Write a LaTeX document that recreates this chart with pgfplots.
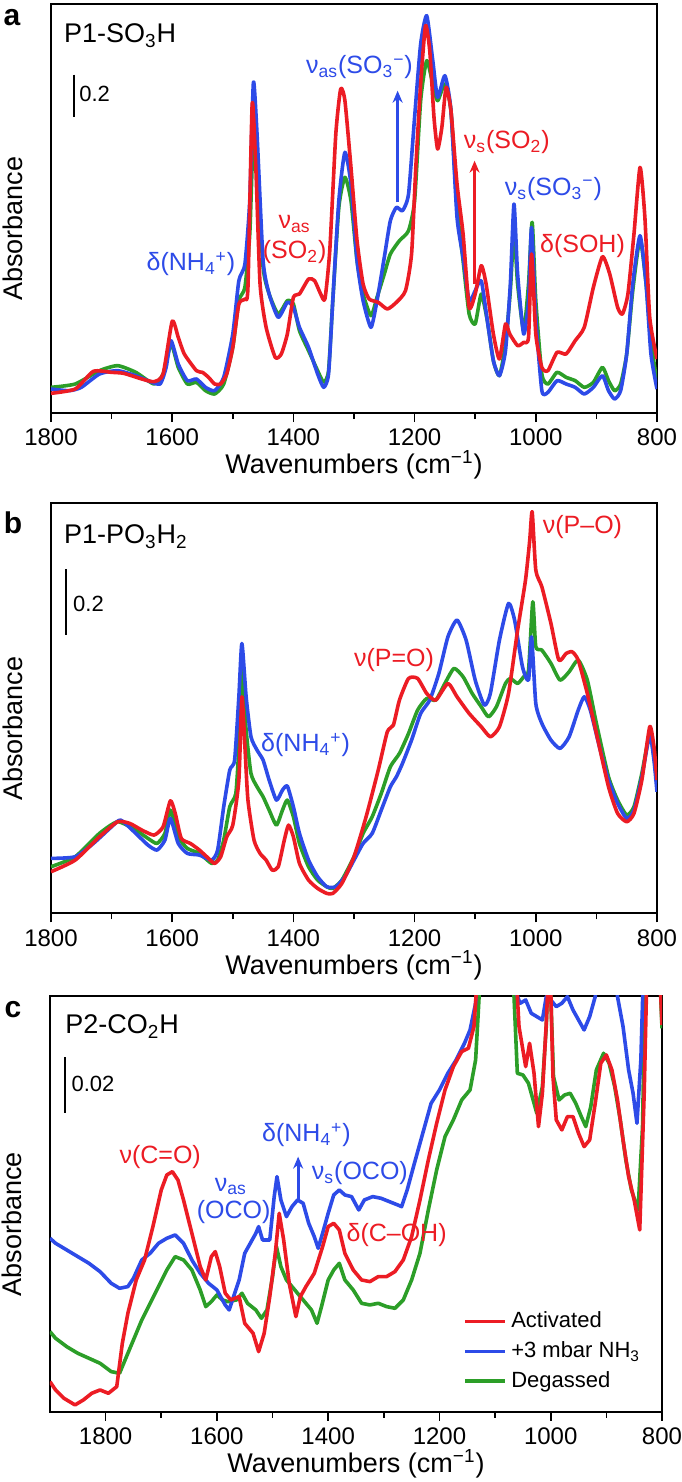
\documentclass[border=0pt]{standalone}
\usepackage{fontspec}
\setmainfont{Liberation Sans}
\usepackage{pgfplots}
\pgfplotsset{compat=1.18}
\usetikzlibrary{arrows.meta}
\definecolor{cred}{RGB}{236,28,36}
\definecolor{cblue}{RGB}{45,75,232}
\definecolor{cgreen}{RGB}{44,158,40}
\newcommand{\fa}{\fontsize{11}{13}\selectfont}
\newcommand{\ft}{\fontsize{12}{14}\selectfont}
\newcommand{\fn}{\fontsize{12.5}{14.5}\selectfont}
\newcommand{\fl}{\fontsize{13.5}{16}\selectfont}
\tikzset{ann/.style={font=\fn, inner sep=0pt}}
\pgfplotsset{
  spec/.style={
    scale only axis, x dir=reverse, clip=true,
    xtick={800,1000,...,1800}, minor xtick={900,1100,...,1700},
    xtick pos=bottom, ytick=\empty,
    tick align=outside, major tick length=4.5pt, minor tick length=3pt,
    axis line style={line width=1pt},
    every tick/.style={black, line width=0.8pt},
    /pgf/number format/assume math mode=true,
    /pgf/number format/1000 sep={},
    xlabel={Wavenumbers (cm\textsuperscript{−1})},
    ylabel={Absorbance},
    every axis x label/.style={at={(axis description cs:0.5,0)}, anchor=center, yshift=-26pt, font=\fl},
    every axis y label/.style={at={(axis description cs:-0.063,0.45)}, anchor=center, rotate=90, font=\fl},
    xticklabel style={font=\ft},
    every axis plot/.append style={line width=1.8pt, line join=round, mark=none},
  },
}
\begin{document}
\begin{tikzpicture}
\path[use as bounding box] (0pt,0pt) rectangle (340.5pt,-741pt);
\node[font=\fontsize{15}{17}\bfseries, anchor=center] at (6pt,-9pt) {a};
\node[font=\fontsize{15}{17}\bfseries, anchor=center] at (6.5pt,-261.5pt) {b};
\node[font=\fontsize{15}{17}\bfseries, anchor=center] at (6.5pt,-505pt) {c};

% ---------------- panel a
\begin{axis}[spec, anchor=south west, at={(25.5pt,-206.5pt)},
  width=303pt, height=204.5pt, xmin=800, xmax=1800, ymin=0, ymax=1227,
  every axis plot/.append style={smooth, tension=0.35}]
\addplot[cgreen] coordinates {(1800,77)(1760,87)(1720,127)(1690,142)(1660,122)(1630,87)(1615,117)(1602,207)(1590,137)(1575,87)(1560,92)(1545,67)(1530,57)(1515,87)(1500,197)(1490,337)(1480,377)(1472,537)(1466,837)(1460,737)(1450,437)(1440,357)(1425,297)(1410,337)(1400,327)(1390,247)(1375,187)(1360,127)(1350,92)(1342,127)(1335,337)(1325,617)(1315,707)(1305,637)(1295,457)(1285,357)(1272,292)(1262,347)(1250,417)(1240,477)(1225,517)(1210,547)(1200,637)(1190,937)(1180,1057)(1170,987)(1162,937)(1150,987)(1140,907)(1130,617)(1120,457)(1110,297)(1100,267)(1090,357)(1080,277)(1070,157)(1060,112)(1050,207)(1042,367)(1036,547)(1030,387)(1020,247)(1012,387)(1006,572)(1000,337)(990,117)(980,87)(965,122)(950,107)(935,97)(920,77)(905,92)(890,137)(880,97)(870,67)(860,87)(850,177)(840,367)(828,522)(818,387)(810,217)(800,92)};
\addplot[cblue] coordinates {(1800,72)(1770,67)(1750,77)(1720,117)(1690,127)(1660,112)(1640,97)(1620,87)(1610,137)(1602,217)(1590,147)(1575,97)(1560,102)(1545,77)(1530,67)(1515,107)(1500,237)(1490,397)(1480,447)(1472,637)(1466,992)(1460,837)(1450,457)(1440,357)(1425,287)(1410,332)(1400,317)(1390,257)(1375,197)(1360,117)(1350,77)(1342,117)(1335,337)(1325,637)(1315,782)(1305,687)(1295,457)(1285,337)(1272,257)(1262,337)(1250,467)(1240,577)(1230,617)(1220,607)(1210,657)(1200,887)(1190,1107)(1180,1192)(1170,1057)(1162,947)(1150,1012)(1140,907)(1130,587)(1120,467)(1110,337)(1100,367)(1090,397)(1080,277)(1070,157)(1060,112)(1050,187)(1042,387)(1036,627)(1030,417)(1020,237)(1012,337)(1007,557)(1000,287)(990,67)(980,62)(965,97)(950,87)(935,77)(920,57)(905,77)(890,112)(880,67)(870,42)(860,67)(850,177)(840,387)(828,532)(818,387)(810,177)(800,72)};
\addplot[cred] coordinates {(1800,59)(1760,72)(1730,125)(1700,122)(1680,119)(1650,102)(1630,94)(1615,117)(1600,275)(1590,227)(1580,177)(1560,127)(1550,122)(1540,107)(1530,87)(1520,87)(1510,117)(1500,197)(1490,327)(1480,342)(1475,377)(1468,927)(1462,737)(1455,387)(1445,257)(1430,167)(1420,177)(1410,237)(1400,347)(1390,357)(1375,402)(1365,397)(1355,357)(1348,342)(1340,487)(1330,837)(1322,972)(1315,937)(1305,737)(1295,517)(1285,387)(1275,342)(1260,332)(1245,312)(1230,332)(1215,367)(1205,477)(1198,737)(1190,987)(1182,1162)(1175,1087)(1168,887)(1162,792)(1155,857)(1148,977)(1140,907)(1130,687)(1120,537)(1110,317)(1100,357)(1090,442)(1082,387)(1070,237)(1060,162)(1050,267)(1043,237)(1030,202)(1020,212)(1012,227)(1007,477)(1000,237)(990,137)(980,127)(965,182)(950,177)(935,217)(920,257)(905,377)(890,469)(878,417)(865,317)(857,297)(848,357)(838,537)(828,737)(820,587)(812,287)(800,162)};
\node[ann, anchor=west, font=\fl] at (axis cs:1779,1132) {P1-SO\textsubscript{3}H};
\draw[line width=1pt] (axis cs:1762,1015) -- (axis cs:1762,889);
\node[ann, anchor=west, font=\fa] at (axis cs:1754,957) {0.2};
\node[ann, text=cblue] at (axis cs:1569,447) {δ(NH\textsubscript{4}\textsuperscript{+})};
\node[ann, text=cred] at (axis cs:1398,567) {ν\textsubscript{as}};
\node[ann, text=cred] at (axis cs:1398,482) {(SO\textsubscript{2})};
\node[ann, text=cblue] at (axis cs:1291,1037) {ν\textsubscript{as}(SO\textsubscript{3}\textsuperscript{−})};
\draw[cblue, line width=1.5pt, -{Stealth[length=6pt,width=5pt]}] (axis cs:1228,632) -- (axis cs:1228,967);
\node[ann, text=cred] at (axis cs:1048,812) {ν\textsubscript{s}(SO\textsubscript{2})};
\draw[cred, line width=1.5pt, -{Stealth[length=6pt,width=5pt]}] (axis cs:1101,387) -- (axis cs:1101,757);
\node[ann, text=cblue] at (axis cs:971,672) {ν\textsubscript{s}(SO\textsubscript{3}\textsuperscript{−})};
\node[ann, text=cred] at (axis cs:923,502) {δ(SOH)};
\end{axis}

% ---------------- panel b
\begin{axis}[spec, anchor=south west, at={(25.5pt,-456.7pt)},
  width=303pt, height=205.3pt, xmin=800, xmax=1800, ymin=0, ymax=1232,
  every axis plot/.append style={smooth, tension=0.35}]
\addplot[cgreen] coordinates {(1800,140)(1760,170)(1720,240)(1690,275)(1660,250)(1640,225)(1625,210)(1612,240)(1603,310)(1590,230)(1575,195)(1555,180)(1535,150)(1525,160)(1515,220)(1505,320)(1495,360)(1490,500)(1485,735)(1478,550)(1470,420)(1460,380)(1450,350)(1440,310)(1428,265)(1418,310)(1410,340)(1400,290)(1390,210)(1375,140)(1360,100)(1345,80)(1335,75)(1320,100)(1300,170)(1285,240)(1270,290)(1255,360)(1240,440)(1225,480)(1210,540)(1195,610)(1180,645)(1165,640)(1150,690)(1135,735)(1120,710)(1105,660)(1090,620)(1078,590)(1065,620)(1050,690)(1042,705)(1030,690)(1020,710)(1012,730)(1005,935)(1000,800)(990,790)(975,750)(960,700)(945,725)(930,760)(915,700)(900,570)(880,410)(865,340)(850,295)(838,320)(825,420)(812,540)(805,470)(800,390)};
\addplot[cblue] coordinates {(1800,165)(1760,170)(1730,210)(1700,260)(1685,280)(1660,240)(1640,205)(1625,190)(1612,220)(1603,285)(1590,210)(1575,180)(1555,175)(1535,160)(1525,190)(1515,320)(1505,430)(1497,460)(1490,650)(1485,810)(1478,650)(1470,530)(1460,490)(1450,460)(1440,400)(1428,340)(1418,370)(1410,382)(1400,320)(1390,240)(1375,160)(1360,110)(1345,80)(1330,80)(1315,110)(1300,160)(1285,210)(1270,240)(1255,310)(1240,380)(1230,410)(1220,450)(1205,520)(1190,600)(1175,640)(1160,720)(1145,830)(1130,880)(1115,820)(1100,700)(1085,625)(1075,660)(1060,820)(1045,930)(1035,880)(1022,740)(1012,700)(1007,830)(1000,630)(990,570)(975,520)(960,495)(945,530)(930,610)(920,650)(910,610)(895,500)(880,400)(865,330)(850,285)(838,310)(825,410)(812,535)(805,460)(800,365)};
\addplot[cred] coordinates {(1800,125)(1760,160)(1720,230)(1690,275)(1670,270)(1650,250)(1630,235)(1615,260)(1603,338)(1595,300)(1585,225)(1570,210)(1555,190)(1540,165)(1530,150)(1520,170)(1510,230)(1500,265)(1490,400)(1485,650)(1480,500)(1475,340)(1465,220)(1455,180)(1445,160)(1435,130)(1425,140)(1415,220)(1408,265)(1400,230)(1390,150)(1375,100)(1360,75)(1345,60)(1335,60)(1320,90)(1300,170)(1280,290)(1260,430)(1245,545)(1235,565)(1225,640)(1210,705)(1195,705)(1180,660)(1165,640)(1145,690)(1130,650)(1110,600)(1090,560)(1075,530)(1060,560)(1045,660)(1030,850)(1017,1000)(1010,1120)(1006,1205)(1000,1030)(990,980)(975,870)(962,760)(950,780)(940,785)(930,760)(915,660)(900,540)(880,380)(865,300)(850,275)(838,300)(825,400)(812,560)(805,500)(800,400)};
\node[ann, anchor=west, font=\fl] at (axis cs:1779,1130) {P1-PO\textsubscript{3}H\textsubscript{2}};
\draw[line width=1pt] (axis cs:1775,1032) -- (axis cs:1775,835);
\node[ann, anchor=west, font=\fa] at (axis cs:1764,930) {0.2};
\node[ann, text=cblue] at (axis cs:1380,505) {δ(NH\textsubscript{4}\textsuperscript{+})};
\node[ann, text=cred] at (axis cs:1234,760) {ν(P=O)};
\node[ann, text=cred] at (axis cs:923,1160) {ν(P–O)};
\end{axis}

% ---------------- panel c
\begin{axis}[spec, anchor=south west, at={(25pt,-705.8pt)},
  width=306pt, height=208pt, xmin=800, xmax=1900, ymin=0, ymax=1248,
  reverse legend,
  legend style={at={(rel axis cs:0.672,0.255)}, anchor=north west, draw=none, fill=none,
    font=\fa, row sep=1.5pt, inner sep=1pt},
  legend cell align=left,
  legend image code/.code={\draw[#1, line width=1.8pt] (0pt,0pt) -- (20pt,0pt);}]
\addplot[cgreen] coordinates {(1900,240)(1890,220)(1870,195)(1850,175)(1830,160)(1810,145)(1790,120)(1775,115)(1765,155)(1750,215)(1735,275)(1720,325)(1705,375)(1690,425)(1675,465)(1660,455)(1645,425)(1630,365)(1620,315)(1610,330)(1600,350)(1590,335)(1580,330)(1565,335)(1555,355)(1545,325)(1530,305)(1520,280)(1510,305)(1500,405)(1493,495)(1485,435)(1475,395)(1460,365)(1445,335)(1430,305)(1420,265)(1412,315)(1400,395)(1390,425)(1380,445)(1370,395)(1355,365)(1340,325)(1325,320)(1310,325)(1295,315)(1280,310)(1265,335)(1250,395)(1235,475)(1220,605)(1205,725)(1190,825)(1175,875)(1160,935)(1145,965)(1135,1055)(1130,1205)(1124,1400)(1070,1400)(1060,1015)(1050,1010)(1040,985)(1025,895)(1015,975)(1008,1155)(1003,1400)(995,1005)(985,935)(975,950)(965,955)(955,925)(945,885)(937,855)(928,915)(918,1025)(905,1075)(895,1045)(885,975)(875,875)(865,755)(855,665)(843,605)(835,855)(829,1400)(806,1400)(800,1150)};
\addlegendentry{Degassed}
\addplot[cblue] coordinates {(1900,520)(1890,505)(1870,485)(1850,465)(1830,445)(1810,420)(1790,385)(1775,370)(1760,375)(1750,400)(1735,455)(1720,475)(1705,505)(1690,520)(1675,530)(1660,505)(1645,455)(1630,415)(1615,385)(1600,365)(1585,320)(1578,305)(1570,345)(1560,395)(1550,475)(1540,505)(1530,535)(1525,555)(1518,515)(1505,515)(1497,645)(1492,705)(1485,635)(1475,585)(1465,615)(1455,635)(1445,625)(1435,565)(1425,525)(1418,490)(1410,535)(1400,595)(1390,650)(1380,665)(1370,650)(1358,645)(1345,605)(1335,635)(1320,645)(1305,640)(1290,630)(1275,620)(1268,615)(1258,665)(1245,745)(1230,835)(1215,925)(1200,965)(1185,1015)(1170,1055)(1155,1105)(1145,1145)(1135,1225)(1126,1400)(1072,1400)(1062,1255)(1055,1225)(1045,1235)(1035,1195)(1025,1185)(1015,1175)(1008,1245)(1000,1235)(990,1215)(980,1225)(970,1245)(960,1205)(950,1175)(940,1145)(930,1185)(920,1245)(912,1400)(885,1400)(880,1245)(870,1155)(860,1025)(852,955)(845,865)(838,1055)(832,1400)(800,1400)};
\addlegendentry{+3 mbar NH\textsubscript{3}}
\addplot[cred] coordinates {(1900,90)(1890,65)(1875,40)(1855,20)(1840,35)(1825,55)(1810,65)(1795,55)(1780,75)(1770,205)(1760,295)(1745,395)(1730,455)(1715,555)(1700,665)(1690,710)(1680,720)(1670,695)(1660,635)(1645,535)(1630,435)(1620,395)(1610,465)(1603,480)(1595,435)(1585,355)(1575,335)(1560,345)(1550,265)(1535,235)(1525,180)(1515,235)(1505,345)(1495,475)(1488,595)(1480,515)(1470,385)(1458,285)(1450,345)(1440,375)(1425,415)(1410,495)(1400,555)(1390,565)(1380,545)(1370,475)(1355,425)(1340,395)(1325,390)(1310,405)(1295,405)(1280,420)(1265,455)(1250,525)(1235,635)(1220,755)(1205,865)(1190,965)(1175,1035)(1160,1080)(1148,1090)(1138,1155)(1128,1400)(1065,1400)(1057,1155)(1045,1035)(1038,1105)(1030,1015)(1022,855)(1015,955)(1008,1165)(1002,1400)(996,1005)(990,875)(980,845)(970,885)(960,885)(950,835)(940,795)(930,815)(920,925)(910,1045)(900,1070)(890,1025)(880,935)(870,815)(860,705)(850,635)(840,545)(832,955)(826,1400)(806,1400)(800,1160)};
\addlegendentry{Activated}
\node[ann, anchor=west, font=\fl] at (axis cs:1873,1155) {P2-CO\textsubscript{2}H};
\draw[line width=1pt] (axis cs:1873,1063) -- (axis cs:1873,895);
\node[ann, anchor=west, font=\fa] at (axis cs:1862,983) {0.02};
\node[ann, text=cred] at (axis cs:1702,765) {ν(C=O)};
\node[ann, text=cblue] at (axis cs:1575,675) {ν\textsubscript{as}};
\node[ann, text=cblue] at (axis cs:1570,600) {(OCO)};
\node[ann, text=cblue] at (axis cs:1439,830) {δ(NH\textsubscript{4}\textsuperscript{+})};
\draw[cblue, line width=1.5pt, -{Stealth[length=6pt,width=5pt]}] (axis cs:1454,635) -- (axis cs:1454,765);
\node[ann, text=cblue] at (axis cs:1343,715) {ν\textsubscript{s}(OCO)};
\node[ann, text=cred] at (axis cs:1277,530) {δ(C–OH)};
\end{axis}
\end{tikzpicture}
\end{document}
